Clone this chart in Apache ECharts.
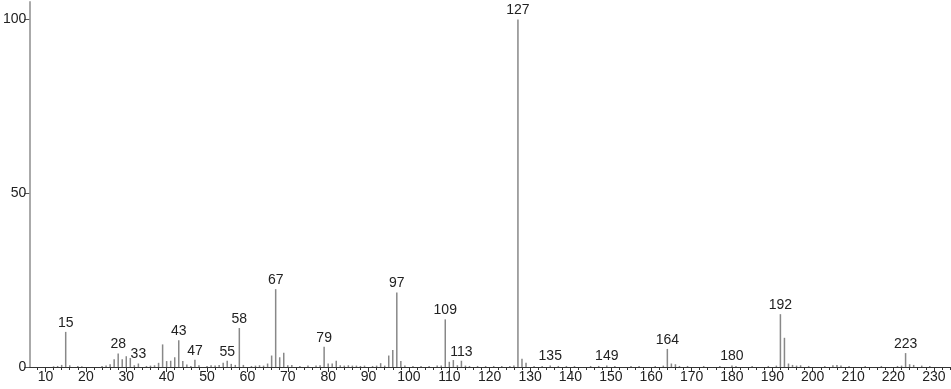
<!DOCTYPE html>
<html>
<head>
<meta charset="utf-8">
<script src="https://cdn.jsdelivr.net/npm/echarts@6/dist/echarts.min.js"></script>
<style>html,body{margin:0;padding:0;background:#fff}#c{width:951px;height:389px}</style>
</head>
<body>
<div id="c"></div>
<script>
var mz = [12,13,14,15,16,18,19,24,25,26,27,28,29,30,31,32,33,35,36,37,38,39,40,41,42,43,44,45,46,47,48,50,51,52,53,54,55,56,57,58,59,61,62,63,64,65,66,67,68,69,70,71,73,75,77,78,79,80,81,82,83,84,85,86,87,88,89,91,92,93,94,95,96,97,98,99,101,103,105,107,108,109,110,111,112,113,114,115,117,119,121,123,125,126,127,128,129,131,133,135,137,139,141,145,147,149,151,155,157,161,163,164,165,166,167,169,173,177,180,181,185,189,191,192,193,194,195,196,197,199,203,205,206,207,209,213,217,221,222,223,224,225,227,229];
var intensity = [0.2,0.3,0.6,10.1,0.5,0.3,0.2,0.3,0.4,0.8,2.2,3.9,2.2,3.1,2.6,0.5,1.0,0.3,0.4,0.5,1.2,6.5,1.7,1.8,2.8,7.7,1.7,0.7,0.3,2.1,0.5,0.3,0.5,0.4,0.6,1.2,1.8,0.9,0.6,11.2,0.6,0.3,0.4,0.5,0.4,1.0,3.3,22.4,2.8,4.1,0.5,0.6,0.3,0.4,0.4,0.5,5.8,1.0,1.0,1.8,0.5,0.4,0.5,0.4,0.4,0.3,0.4,0.3,0.4,1.1,0.4,3.3,4.9,21.4,1.7,0.4,0.3,0.3,0.3,0.4,0.4,13.7,1.5,2.0,0.5,1.8,0.4,0.3,0.3,0.3,0.3,0.3,0.3,0.4,100,2.4,1.2,0.3,0.3,0.4,0.3,0.3,0.3,0.3,0.3,0.4,0.3,0.3,0.3,0.3,0.4,5.2,1.0,0.8,0.3,0.3,0.3,0.3,0.4,0.3,0.3,0.3,0.4,15.2,8.4,1.0,0.6,0.4,0.5,0.3,0.3,0.5,0.6,0.4,0.3,0.3,0.3,0.3,0.4,4.0,0.8,0.6,0.4,0.3];
var labelled = [15,28,33,43,47,55,58,67,79,97,109,113,127,135,149,164,180,192,223];
var xTicks = [10,20,30,40,50,60,70,80,90,100,110,120,130,140,150,160,170,180,190,200,210,220,230];
var yTicks = [0,50,100];

var minorTicks = [];
for (var t = 8; t <= 234; t += 2) { if (t % 10 !== 0) minorTicks.push(t); }

var data = mz.map(function (m, i) {
  var d = { value: [m, intensity[i]] };
  if (labelled.indexOf(m) >= 0) d.label = { show: true };
  return d;
});

var FONT = 'Liberation Sans';
var chart = echarts.init(document.getElementById('c'));
chart.setOption({
  animation: false,
  backgroundColor: '#fff',
  grid: { left: 29, right: 1, top: 2, bottom: 22, containLabel: false },
  xAxis: [{
    type: 'value', min: 6, max: 234, position: 'bottom',
    splitLine: { show: false },
    axisLine: { show: true, onZero: false, lineStyle: { color: '#333', width: 1 } },
    axisTick: { show: true, length: 5, customValues: xTicks, lineStyle: { color: '#333' } },
    axisLabel: { show: true, customValues: xTicks, margin: 3, color: '#222', fontFamily: FONT, fontSize: 14 }
  }, {
    type: 'value', min: 6, max: 234, position: 'bottom', offset: 0,
    splitLine: { show: false },
    axisLine: { show: false },
    axisTick: { show: true, length: 3, customValues: minorTicks, lineStyle: { color: '#333' } },
    axisLabel: { show: false }
  }],
  yAxis: {
    type: 'value', min: 0, max: 105,
    splitLine: { show: false },
    axisLine: { show: true, lineStyle: { color: '#aaa', width: 2 } },
    axisTick: { show: true, length: 5, customValues: yTicks, lineStyle: { color: '#555' } },
    axisLabel: { show: true, customValues: yTicks, margin: 3, color: '#222', fontFamily: FONT, fontSize: 14 }
  },
  series: [{
    type: 'bar',
    xAxisIndex: 0,
    barWidth: 1.5,
    itemStyle: { color: '#888' },
    label: {
      show: false, position: 'top', distance: 2, color: '#222', fontFamily: FONT, fontSize: 14,
      formatter: function (p) { return String(p.value[0]); }
    },
    data: data
  }]
});
</script>
</body>
</html>
